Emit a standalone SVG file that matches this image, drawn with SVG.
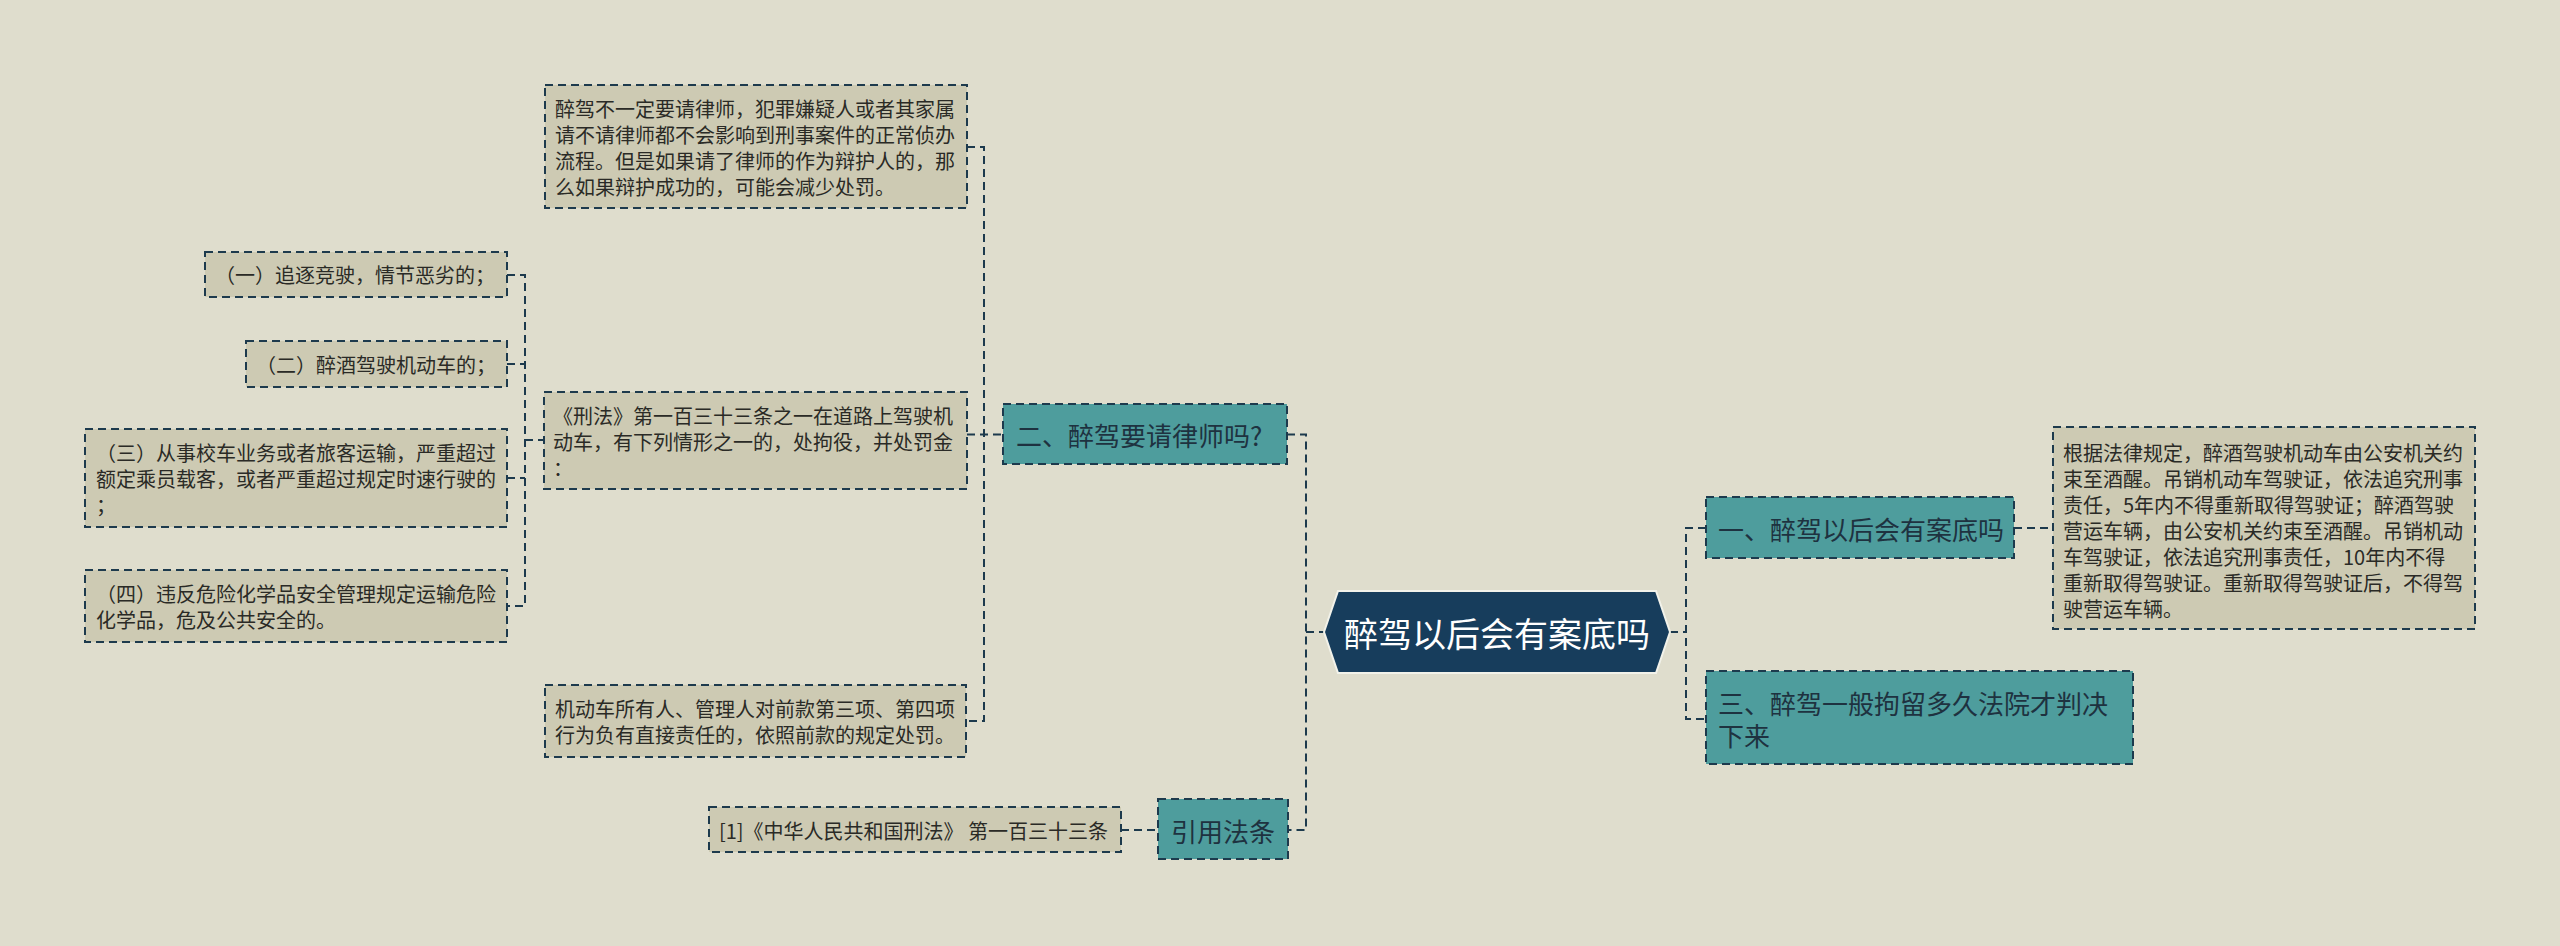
<svg xmlns="http://www.w3.org/2000/svg" width="2560" height="946" viewBox="0 0 2560 946">
<style>
.bg{fill:#dfddcd}
.leaf{fill:#cdcab3;stroke:#1d3a4d;stroke-width:2;stroke-dasharray:8 5}
.sub{fill:#4e9d9d;stroke:#1d3a4d;stroke-width:2;stroke-dasharray:8 5}
.root{fill:#173d5c;stroke:#f2f2ea;stroke-width:2}
.t{font-family:"Noto Sans CJK SC","Noto Sans",sans-serif;dominant-baseline:central}
.ts{font-size:20px;fill:#2a2a26}
.tm{font-size:26px;fill:#1e3240}
.tr{font-size:34px;fill:#ffffff}
.c{fill:none;stroke:#1d3a4d;stroke-width:2;stroke-dasharray:8 5}
</style>
<rect class="bg" x="0" y="0" width="2560" height="946"/>
<g id="connectors">
<path class="c" d="M1287 434.5 H1306 V830 H1288"/>
<path class="c" d="M1306 632 H1324"/>
<path class="c" d="M1670 632 H1686"/>
<path class="c" d="M1706 528 H1686 V719 H1706"/>
<path class="c" d="M2014 528 H2053"/>
<path class="c" d="M1121 830 H1158"/>
<path class="c" d="M967 147 H984 V721 H967"/>
<path class="c" d="M967 434.5 H1003"/>
<path class="c" d="M507 275 H525 V606 H507"/>
<path class="c" d="M507 364 H525"/>
<path class="c" d="M507 478 H525"/>
<path class="c" d="M525 440 H544"/>
</g>
<g id="root">
<polygon class="root" points="1324,632 1338,591 1656,591 1670,632 1656,673 1338,673"/>
<text class="t tr" x="1497" y="632" text-anchor="middle">醉驾以后会有案底吗</text>
</g>
<g id="n-yi">
<rect class="sub" x="1706" y="497" width="308" height="61"/>
<text class="t tm" x="1718" y="528">一、醉驾以后会有案底吗</text>
</g>
<g id="n-yi-detail">
<rect class="leaf" x="2053" y="427" width="422" height="202"/>
<text class="t ts" x="2063" y="452">根据法律规定，醉酒驾驶机动车由公安机关约</text>
<text class="t ts" x="2063" y="478">束至酒醒。吊销机动车驾驶证，依法追究刑事</text>
<text class="t ts" x="2063" y="504">责任，5年内不得重新取得驾驶证；醉酒驾驶</text>
<text class="t ts" x="2063" y="530">营运车辆，由公安机关约束至酒醒。吊销机动</text>
<text class="t ts" x="2063" y="556">车驾驶证，依法追究刑事责任，10年内不得</text>
<text class="t ts" x="2063" y="582">重新取得驾驶证。重新取得驾驶证后，不得驾</text>
<text class="t ts" x="2063" y="608">驶营运车辆。</text>
</g>
<g id="n-san">
<rect class="sub" x="1706" y="671" width="427" height="93"/>
<text class="t tm" x="1718" y="702">三、醉驾一般拘留多久法院才判决</text>
<text class="t tm" x="1718" y="734">下来</text>
</g>
<g id="n-er">
<rect class="sub" x="1003" y="404" width="284" height="60"/>
<text class="t tm" x="1016" y="434.5">二、醉驾要请律师吗?</text>
</g>
<g id="n-er-1">
<rect class="leaf" x="545" y="85" width="422" height="123"/>
<text class="t ts" x="555" y="108">醉驾不一定要请律师，犯罪嫌疑人或者其家属</text>
<text class="t ts" x="555" y="134">请不请律师都不会影响到刑事案件的正常侦办</text>
<text class="t ts" x="555" y="160">流程。但是如果请了律师的作为辩护人的，那</text>
<text class="t ts" x="555" y="186">么如果辩护成功的，可能会减少处罚。</text>
</g>
<g id="n-er-2">
<rect class="leaf" x="544" y="392" width="423" height="97"/>
<text class="t ts" x="553" y="415">《刑法》第一百三十三条之一在道路上驾驶机</text>
<text class="t ts" x="553" y="441">动车，有下列情形之一的，处拘役，并处罚金</text>
<text class="t ts" x="553" y="467">：</text>
</g>
<g id="n-er-2-a">
<rect class="leaf" x="205" y="252" width="302" height="45"/>
<text class="t ts" x="215" y="274.5">（一）追逐竞驶，情节恶劣的；</text>
</g>
<g id="n-er-2-b">
<rect class="leaf" x="246" y="341" width="261" height="46"/>
<text class="t ts" x="256" y="364">（二）醉酒驾驶机动车的；</text>
</g>
<g id="n-er-2-c">
<rect class="leaf" x="85" y="429" width="422" height="98"/>
<text class="t ts" x="96" y="452">（三）从事校车业务或者旅客运输，严重超过</text>
<text class="t ts" x="96" y="478">额定乘员载客，或者严重超过规定时速行驶的</text>
<text class="t ts" x="96" y="504">；</text>
</g>
<g id="n-er-2-d">
<rect class="leaf" x="85" y="570" width="422" height="72"/>
<text class="t ts" x="96" y="593">（四）违反危险化学品安全管理规定运输危险</text>
<text class="t ts" x="96" y="619">化学品，危及公共安全的。</text>
</g>
<g id="n-er-3">
<rect class="leaf" x="545" y="685" width="421" height="72"/>
<text class="t ts" x="555" y="708">机动车所有人、管理人对前款第三项、第四项</text>
<text class="t ts" x="555" y="734">行为负有直接责任的，依照前款的规定处罚。</text>
</g>
<g id="n-cite">
<rect class="sub" x="1158" y="799" width="130" height="60"/>
<text class="t tm" x="1171" y="830">引用法条</text>
</g>
<g id="n-cite-1">
<rect class="leaf" x="709" y="807" width="412" height="45"/>
<text class="t ts" x="719" y="830">[1]《中华人民共和国刑法》 第一百三十三条</text>
</g>
</svg>
